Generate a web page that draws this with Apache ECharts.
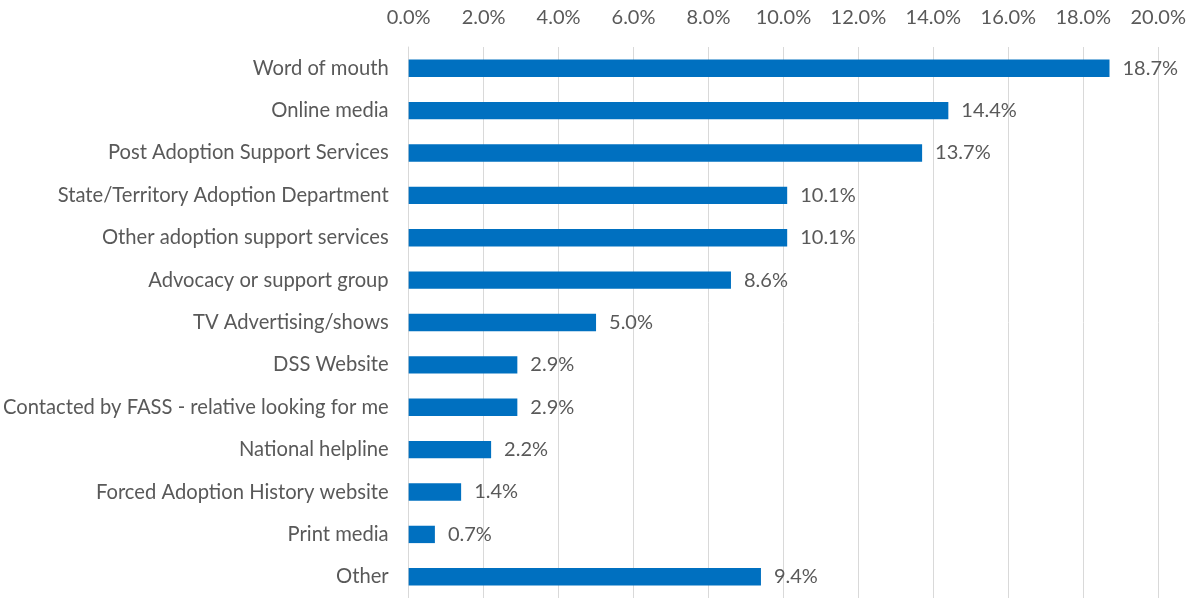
<!DOCTYPE html>
<html><head><meta charset="utf-8">
<script src="https://cdn.jsdelivr.net/npm/echarts@6/dist/echarts.min.js"></script>
<style>html,body{margin:0;padding:0;background:#fff}#c{width:1189px;height:598px}</style>
</head><body><div id="c"></div>
<script>
const categories = ["Word of mouth","Online media","Post Adoption Support Services","State/Territory Adoption Department","Other adoption support services","Advocacy or support group","TV Advertising/shows","DSS Website","Contacted by FASS - relative looking for me","National helpline","Forced Adoption History website","Print media","Other"];
const values = [18.7,14.4,13.7,10.1,10.1,8.6,5.0,2.9,2.9,2.2,1.4,0.7,9.4];
const tickMax = 20;
const tickStep = 2;
const font = "Lato, 'Open Sans', sans-serif";
const chart = echarts.init(document.getElementById('c'));
chart.setOption({
  animation:false,
  grid:{left:408,right:27,top:47,bottom:0,containLabel:false},
  xAxis:{type:'value',position:'top',min:0,max:tickMax,interval:tickStep,
    axisLine:{show:false},axisTick:{show:false},
    splitLine:{lineStyle:{color:'#d9d9d9',width:1}},
    axisLabel:{formatter:v=>v.toFixed(1)+'%',color:'#595959',fontSize:20,fontFamily:font,margin:19}},
  yAxis:{type:'category',inverse:true,data:categories,
    axisLine:{show:true,lineStyle:{color:'#d9d9d9'}},axisTick:{show:false},
    axisLabel:{color:'#595959',fontSize:20.2,fontFamily:font,margin:20}},
  series:[{type:'bar',data:values,barCategoryGap:'59%',
    itemStyle:{color:'#0070C0'},
    label:{show:true,position:'right',distance:13,formatter:p=>p.value.toFixed(1)+'%',color:'#595959',fontSize:20,fontFamily:font}}]
});
</script></body></html>
